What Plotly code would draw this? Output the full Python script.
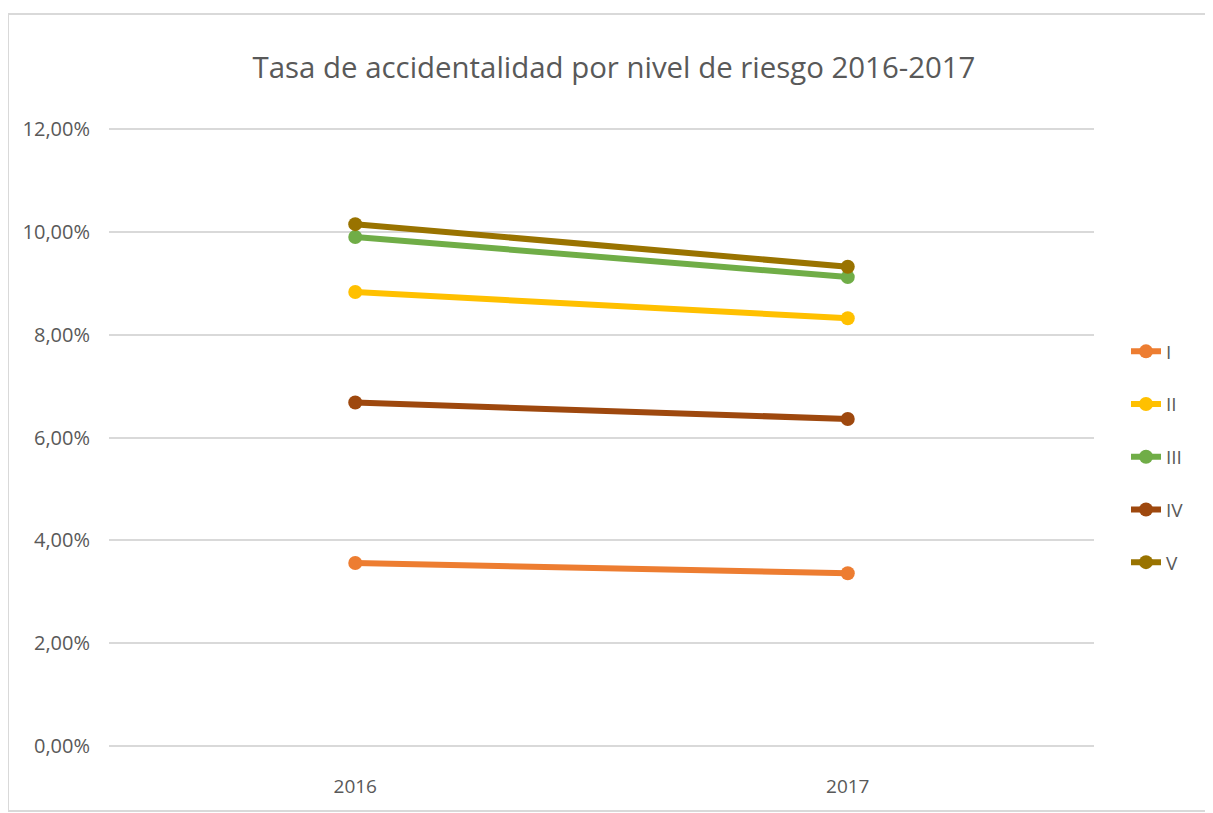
import plotly.graph_objects as go

years = ["2016", "2017"]
series_names = ["I", "II", "III", "IV", "V"]
vals_I = [0.0356, 0.0336]
vals_II = [0.0883, 0.0832]
vals_III = [0.0990, 0.0912]
vals_IV = [0.0668, 0.0636]
vals_V = [0.1015, 0.0932]
colors = ["#ED7D31", "#FFC000", "#70AD47", "#9E480E", "#997300"]
tick_vals = [0, 0.02, 0.04, 0.06, 0.08, 0.10, 0.12]
tick_text = ["0,00%", "2,00%", "4,00%", "6,00%", "8,00%", "10,00%", "12,00%"]

all_vals = [vals_I, vals_II, vals_III, vals_IV, vals_V]

fig = go.Figure()
for name, v, c in zip(series_names, all_vals, colors):
    fig.add_trace(go.Scatter(
        x=years, y=v, name=name, mode="lines+markers",
        line=dict(color=c, width=6),
        marker=dict(color=c, size=14),
        legendgroup=name,
    ))

OFF = 8  # default page body margin
W, H = 1213, 813
L, T = 109 - OFF, 128 - OFF
R = W - (1094 - OFF)
B = H - (747 - OFF)
pw, ph = W - L - R, H - T - B

def px_x(x):
    return (x - OFF - L) / pw

def px_y(y):
    return (H - B - (y - OFF)) / ph

fig.update_layout(
    width=W, height=H,
    margin=dict(l=L, r=R, t=T, b=B),
    paper_bgcolor="white", plot_bgcolor="white",
    font=dict(family="Open Sans, sans-serif", color="#595959", size=18),
    title=dict(text="Tasa de accidentalidad por nivel de riesgo 2016-2017",
               x=(614 - OFF) / W, xanchor="center", y=1 - (68 - OFF) / H, yanchor="middle",
               xref="container", yref="container",
               font=dict(size=29.4, color="#595959", family="Open Sans, sans-serif")),
    xaxis=dict(type="category", range=[-0.5, 1.5], showgrid=False,
               showline=False, zeroline=False, ticks="",
               ticklabelstandoff=26, tickfont=dict(size=19, color="#595959")),
    yaxis=dict(range=[-0.0002, 0.1202], tickvals=tick_vals, ticktext=tick_text,
               showgrid=True, gridcolor="#D9D9D9", gridwidth=1.5,
               zeroline=False, showline=False, ticks="",
               ticklabelstandoff=18, tickfont=dict(size=20, color="#595959")),
    legend=dict(x=px_x(1126), xanchor="left", y=px_y(457), yanchor="middle",
                tracegroupgap=25, font=dict(size=19, color="#595959"),
                bgcolor="rgba(0,0,0,0)", itemwidth=30),
    shapes=[dict(type="rect", xref="paper", yref="paper",
                 x0=px_x(8), x1=px_x(1240), y0=px_y(811), y1=px_y(14),
                 line=dict(color="#D9D9D9", width=2), fillcolor="rgba(0,0,0,0)",
                 layer="below")],
)

fig.write_html("out.html")
